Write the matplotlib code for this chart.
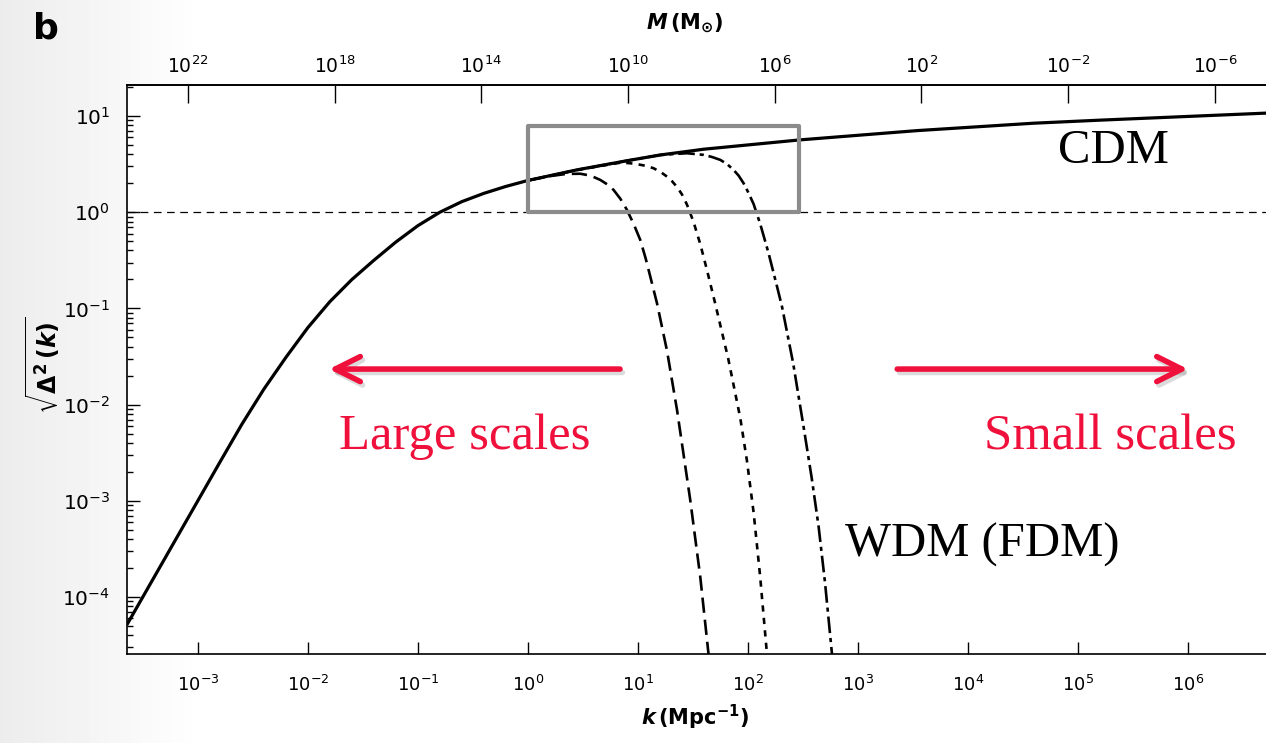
import numpy as np
import matplotlib
matplotlib.use("Agg")
import matplotlib.pyplot as plt
from matplotlib.patches import Rectangle
from matplotlib.ticker import NullLocator, FixedLocator

# values, as log10(k / Mpc^-1) and log10(sqrt(Delta^2))
cdm_logk = [-3.645, -3.3, -3.0, -2.8, -2.6, -2.4, -2.2, -2.0, -1.8, -1.6,
            -1.4, -1.2, -1.0, -0.8, -0.6, -0.4, -0.2, 0.0, 0.445, 0.9,
            1.203, 1.6, 2.051, 2.475, 3.536, 4.594, 5.203, 6.71]
cdm_logd = [-4.29, -3.60, -3.00, -2.60, -2.205, -1.84, -1.51, -1.20, -0.93,
            -0.70, -0.50, -0.31, -0.14, 0.0, 0.11, 0.196, 0.268, 0.33, 0.44,
            0.535, 0.595, 0.655, 0.705, 0.752, 0.848, 0.925, 0.957, 1.03]

wdm1_logk = [0.0, 0.2, 0.35, 0.475, 0.57, 0.657, 0.72, 0.778, 0.84, 0.9,
             0.96, 1.021, 1.07, 1.112, 1.173, 1.264, 1.355, 1.475, 1.566,
             1.642]
wdm1_logd = [0.33, 0.375, 0.398, 0.40, 0.38, 0.336, 0.29, 0.232, 0.14, 0.024,
             -0.12, -0.288, -0.48, -0.669, -0.946, -1.44, -2.055, -2.99,
             -3.788, -4.60]

wdm2_logk = [0.0, 0.45, 0.84, 0.92, 0.991, 1.07, 1.142, 1.21, 1.264, 1.31,
             1.355, 1.40, 1.445, 1.475, 1.505, 1.566, 1.627, 1.70, 1.82, 1.93,
             1.99, 2.051, 2.11, 2.173]
wdm2_logd = [0.33, 0.44, 0.515, 0.51, 0.50, 0.482, 0.457, 0.415, 0.37, 0.322,
             0.262, 0.185, 0.08, -0.01, -0.10, -0.33, -0.60, -0.94, -1.52,
             -2.14, -2.58, -3.12, -3.78, -4.60]

wdm3_logk = [0.0, 0.45, 0.9, 1.203, 1.445, 1.596, 1.67, 1.748, 1.81, 1.869,
             1.915, 1.96, 2.005, 2.051, 2.112, 2.187, 2.264, 2.309, 2.41,
             2.505, 2.58, 2.642, 2.70, 2.764]
wdm3_logd = [0.33, 0.44, 0.535, 0.595, 0.613, 0.596, 0.575, 0.544, 0.50, 0.44,
             0.38, 0.301, 0.20, 0.085, -0.125, -0.426, -0.773, -0.981, -1.567,
             -2.229, -2.77, -3.27, -3.85, -4.60]

k_ticks = [1e-3, 1e-2, 1e-1, 1e0, 1e1, 1e2, 1e3, 1e4, 1e5, 1e6]
m_ticks = [1e22, 1e18, 1e14, 1e10, 1e6, 1e2, 1e-2, 1e-6]
m_labels = ["$10^{22}$", "$10^{18}$", "$10^{14}$", "$10^{10}$", "$10^{6}$",
            "$10^{2}$", "$10^{-2}$", "$10^{-6}$"]

# mass enclosed per mode, M = M_NORM * k^-3 (matches the top axis)
M_NORM = 10 ** 12.727

box_k = (1.0, 290.0)
box_d = (1.0, 7.9)

RED = "#f0103c"


def k_to_m(k):
    k = np.clip(np.asarray(k, dtype=float), 1e-30, None)
    return M_NORM / k ** 3


def m_to_k(m):
    m = np.clip(np.asarray(m, dtype=float), 1e-300, None)
    return (M_NORM / m) ** (1.0 / 3.0)


def p10(v):
    return 10 ** np.asarray(v)


plt.rcParams["lines.scale_dashes"] = False
fig = plt.figure(figsize=(12.66, 7.43), dpi=100)

# faint grey shading at the left of the slide
bg = fig.add_axes([0, 0, 1, 1], zorder=-10)
grad = np.clip(0.925 + 0.075 * np.linspace(0, 1, 400) / 0.16, 0, 1)
bg.imshow(np.tile(grad, (10, 1)), cmap="gray", vmin=0, vmax=1,
          aspect="auto", extent=[0, 1, 0, 1])
bg.set_axis_off()

ax = fig.add_axes([0.1001, 0.1194, 0.8999, 0.7662])
ax.set_xscale("log")
ax.set_yscale("log")
ax.set_xlim(2.26e-4, 5.1e6)
ax.set_ylim(2.54e-5, 21.0)

ax.axhline(1.0, color="black", lw=0.9, dashes=(5.5, 4.0), zorder=1)

ax.plot(p10(wdm1_logk), p10(wdm1_logd), color="black", lw=1.9,
        dashes=(11, 5), zorder=2)
ax.plot(p10(wdm2_logk), p10(wdm2_logd), color="black", lw=1.9,
        dashes=(4.5, 4.5), zorder=2)
ax.plot(p10(wdm3_logk), p10(wdm3_logd), color="black", lw=1.9,
        dashes=(12, 3.5, 3, 3.5), zorder=2)
ax.plot(p10(cdm_logk), p10(cdm_logd), color="black", lw=2.3, zorder=3,
        solid_capstyle="butt", solid_joinstyle="round")

ax.add_patch(Rectangle((box_k[0], box_d[0]), box_k[1] - box_k[0],
                       box_d[1] - box_d[0], fill=False, edgecolor="#8c8c8c",
                       lw=3.0, zorder=4, joinstyle="round"))

# red scale arrows with a soft shadow
for x0, x1 in [(0.433, 0.1776), (0.6763, 0.9315)]:
    y0 = 0.501
    ax.annotate("", xy=(x1 + 0.002, y0 - 0.006), xytext=(x0 + 0.002, y0 - 0.006),
                xycoords="axes fraction",
                arrowprops=dict(arrowstyle="->,head_length=0.9,head_width=0.45",
                                color="#999999", lw=4.0, alpha=0.35,
                                shrinkA=0, shrinkB=0, mutation_scale=20))
    ax.annotate("", xy=(x1, y0), xytext=(x0, y0), xycoords="axes fraction",
                arrowprops=dict(arrowstyle="->,head_length=0.9,head_width=0.45",
                                color=RED, lw=4.0, shrinkA=0, shrinkB=0,
                                mutation_scale=20))

serif = ["Liberation Serif", "DejaVu Serif"]
ax.text(0.2965, 0.382, "Large scales", transform=ax.transAxes, color=RED,
        fontsize=36.5, family=serif, ha="center", va="center")
ax.text(0.8635, 0.382, "Small scales", transform=ax.transAxes, color=RED,
        fontsize=36.5, family=serif, ha="center", va="center")
ax.text(0.8661, 0.884, "CDM", transform=ax.transAxes, color="black",
        fontsize=35, family=serif, ha="center", va="center")
ax.text(0.7512, 0.192, "WDM (FDM)", transform=ax.transAxes, color="black",
        fontsize=35, family=serif, ha="center", va="center")

for s in ["left", "bottom", "top"]:
    ax.spines[s].set_linewidth(1.2)
ax.spines["right"].set_visible(False)

ax.xaxis.set_major_locator(FixedLocator(k_ticks))
ax.xaxis.set_minor_locator(NullLocator())
ax.tick_params(axis="x", which="major", direction="in", length=8.5,
               width=1.0, labelsize=13, pad=15, top=False)
ax.tick_params(axis="y", which="major", direction="in", length=9,
               width=1.0, labelsize=14.5, pad=12, right=False)
ax.tick_params(axis="y", which="minor", direction="in", length=4.5,
               width=1.0, right=False)

sec = ax.secondary_xaxis("top", functions=(k_to_m, m_to_k))
sec.set_xticks(m_ticks, m_labels)
sec.xaxis.set_minor_locator(NullLocator())
sec.tick_params(axis="x", direction="in", length=13, width=1.0,
                labelsize=13.5, pad=6)
sec.spines["top"].set_linewidth(1.2)

fig.text(0.549, 0.034, r"$\mathbfit{k}\,\mathbf{(Mpc^{-1})}$", ha="center",
         va="center", fontsize=15)
fig.text(0.541, 0.968, r"$\mathbfit{M}\,\mathbf{(M_{\odot})}$", ha="center",
         va="center", fontsize=15)
fig.text(0.034, 0.509, r"$\sqrt{\mathbf{\Delta^{2}}\,\mathbf{(}\mathbfit{k}\mathbf{)}}$",
         ha="center", va="center", rotation=90, fontsize=17)
fig.text(0.036, 0.962, "b", ha="center", va="center", fontsize=26,
         fontweight="bold")

fig.savefig("out.png", dpi=100)
